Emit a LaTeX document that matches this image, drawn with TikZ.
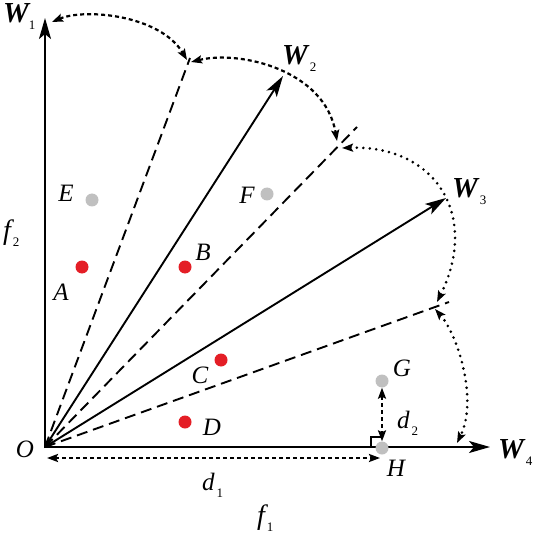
\documentclass[tikz,border=0pt]{standalone}
\usepackage{fontspec}
\setmainfont{Liberation Serif}
\usetikzlibrary{arrows.meta}
\definecolor{ptred}{RGB}{228,30,38}
\definecolor{ptgray}{RGB}{192,192,192}
\newcommand\subl[3]{#1\kern#3\raisebox{-7pt}{\normalfont\fontsize{13}{13}\selectfont #2}}
\begin{document}
\begin{tikzpicture}[x=1pt,y=-1pt,
  bigtip/.style={-{Stealth[length=21pt,width=12pt,inset=5pt]}},
  axis/.style={line width=2.1pt,bigtip},
  vec/.style={line width=1.9pt,bigtip},
  divider/.style={line width=1.9pt,dash pattern=on 11pt off 6pt},
  smalltips/.style={{Stealth[length=11pt,width=8pt,inset=2pt]}-{Stealth[length=11pt,width=8pt,inset=2pt]}},
  dashedarc/.style={line width=2.2pt,dash pattern=on 4pt off 3pt,smalltips},
  dottedarc/.style={line width=2.9pt,dash pattern=on 0pt off 6.5pt,line cap=round,smalltips},
  dot/.style={circle,inner sep=0pt,minimum size=13pt},
  reddot/.style={dot,fill=ptred},
  graydot/.style={dot,fill=ptgray},
  lab/.style={inner sep=0pt,font=\fontsize{25}{30}\selectfont\itshape},
  flab/.style={inner sep=0pt,font=\fontsize{28}{30}\selectfont\itshape},
  wlab/.style={inner sep=0pt,anchor=base west,font=\fontsize{29}{30}\selectfont\bfseries\itshape},
  ]
\useasboundingbox (0,0) rectangle (534,534);
% key coordinates
\coordinate (O) at (45,447);
\coordinate (T1) at (45,18);
\coordinate (T2) at (283,76);
\coordinate (T3) at (446,198);
\coordinate (T4) at (490,447);
\coordinate (L1) at (190,58);
\coordinate (L2) at (357,127);
\coordinate (L3) at (449,302);
\coordinate (a1s) at (52,22);
\coordinate (a1e) at (187,60);
\coordinate (a2s) at (191,62);
\coordinate (a2e) at (337,141);
\coordinate (a3s) at (342,148);
\coordinate (a3e) at (437,302);
\coordinate (a4s) at (435,309);
\coordinate (a4e) at (457,443);
\coordinate (d1a) at (47,458);
\coordinate (d1b) at (380,458);
% dividing dashed lines
\draw[divider] (O) -- (L1);
\draw[divider] (O) -- (L2);
\draw[divider] (O) -- (L3);
% weight vectors
\draw[vec] (O) -- (T2);
\draw[vec] (O) -- (T3);
\draw[axis] (45,448) -- (T1);
\draw[axis] (44,447) -- (T4);
% arcs between vectors and dividers
\draw[dashedarc] (a1s) .. controls (85,8) and (160,15) .. (a1e);
\draw[dashedarc] (a2s) .. controls (240,50) and (325,70) .. (a2e);
\draw[dottedarc] (a3s) .. controls (435,145) and (480,215) .. (a3e);
\draw[dottedarc] (a4s) .. controls (458,335) and (478,400) .. (a4e);
% points
\node[graydot] (E) at (92,200) {};
\node[reddot] (A) at (82,267) {};
\node[reddot] (B) at (185,267) {};
\node[graydot] (F) at (267,194) {};
\node[reddot] (C) at (221,360) {};
\node[reddot] (D) at (185,422) {};
\node[graydot] (G) at (382,381) {};
% right angle mark at H
\draw[line width=1.5pt] (371,447) -- (371,437) -- (382,437);
\node[graydot] (H) at (382,448) {};
% distances
\draw[dashedarc] (G) -- (H);
\draw[dashedarc] (d1a) -- (d1b);
% labels
\node[wlab] (W1l) at (3,23) {\subl{W}{1}{0pt}};
\node[wlab] (W2l) at (282,65) {\subl{W}{2}{2pt}};
\node[wlab] (W3l) at (452,198) {\subl{W}{3}{2pt}};
\node[wlab] (W4l) at (498,458) {\subl{W}{4}{2pt}};
\node[lab] (El) at (66,193) {E};
\node[lab] (Al) at (61,292) {A};
\node[lab] (Bl) at (203,252) {B};
\node[lab] (Fl) at (247,195) {F};
\node[lab] (Cl) at (200,375) {C};
\node[lab] (Dl) at (212,427) {D};
\node[lab] (Gl) at (402,368) {G};
\node[lab] (Hl) at (396,468) {H};
\node[lab] (Ol) at (25,449) {O};
\node[lab,anchor=base west] (d2l) at (397,428) {\subl{d}{2}{2pt}};
\node[lab,anchor=base west] (d1l) at (202,490) {\subl{d}{1}{2pt}};
\node[flab,anchor=base west] (f1l) at (257,524) {\subl{f}{1}{2pt}};
\node[flab,anchor=base west] (f2l) at (3,239) {\subl{f}{2}{2pt}};
\end{tikzpicture}
\end{document}
